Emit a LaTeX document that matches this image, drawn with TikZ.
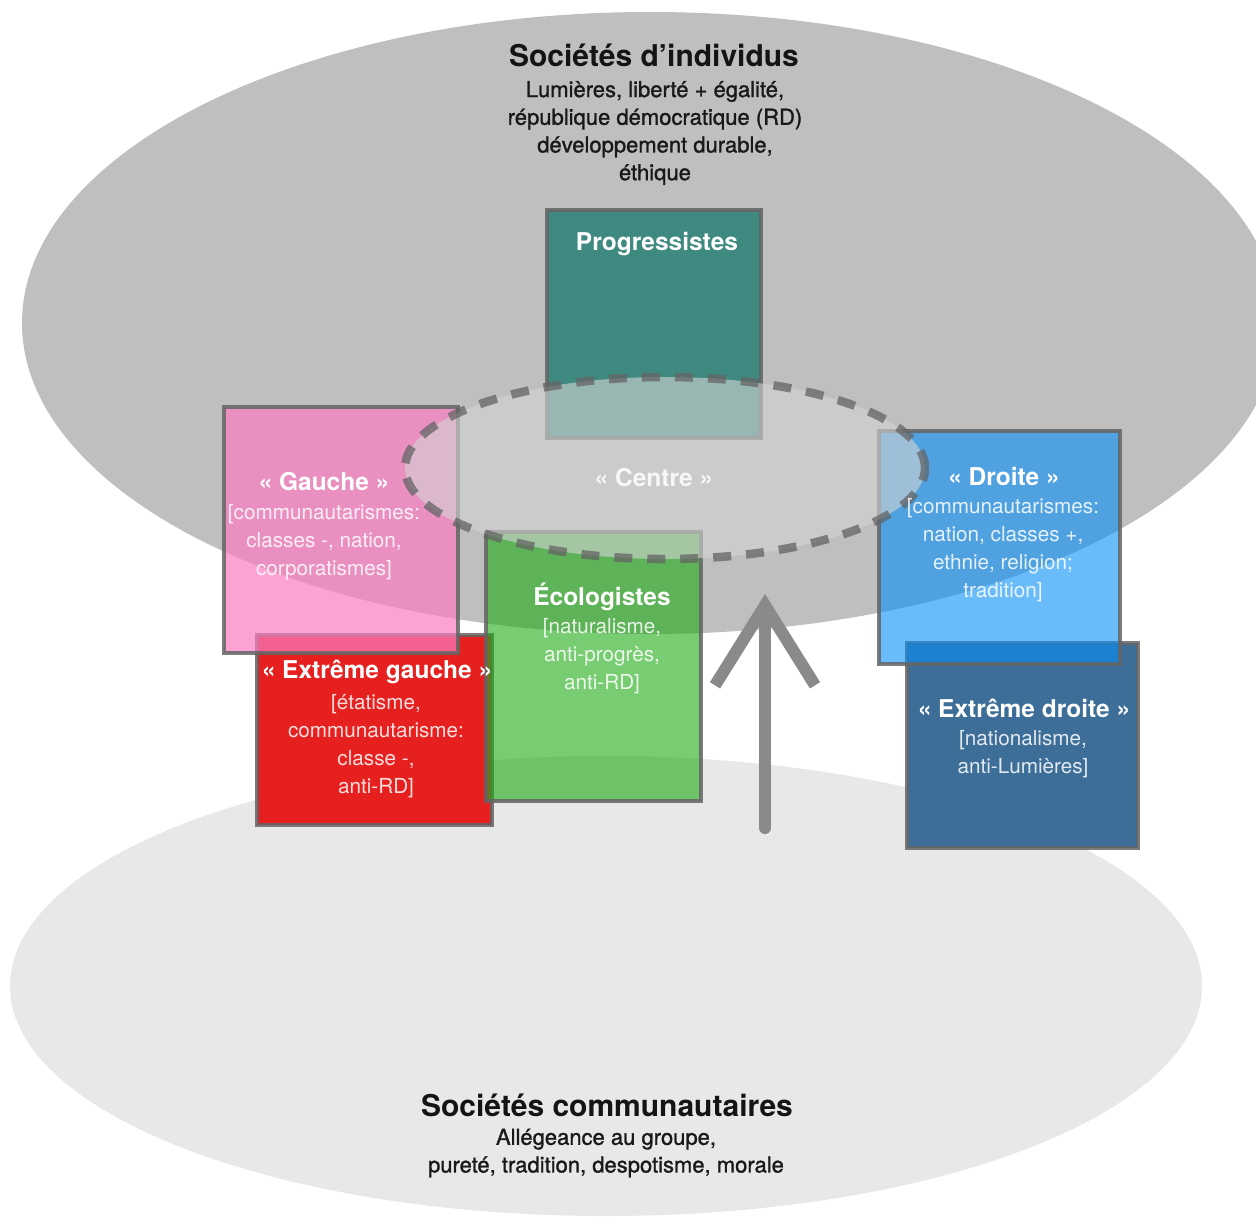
\documentclass[tikz,border=0pt]{standalone}
\usepackage{fontspec}
\setmainfont{TeX Gyre Heros}
\newfontfamily\moyen[FakeBold=1.2]{TeX Gyre Heros}
\usetikzlibrary{shapes.geometric, arrows.meta}

\definecolor{grisHaut}{RGB}{191,191,191}
\definecolor{grisBas}{RGB}{232,232,232}
\definecolor{sarcelle}{RGB}{63,138,128}
\definecolor{rose}{RGB}{251,125,193}
\definecolor{vert}{RGB}{30,170,20}
\definecolor{rouge}{RGB}{230,32,30}
\definecolor{bleu}{RGB}{5,142,246}
\definecolor{bleuFonce}{RGB}{60,110,152}
\definecolor{bord}{RGB}{100,100,100}
\definecolor{voile}{RGB}{212,212,212}
\definecolor{craie}{RGB}{138,138,138}

\tikzset{
	societe/.style={ellipse, inner sep=0pt},
	parti/.style={rectangle, draw=bord, draw opacity=0.85, line width=4pt, inner sep=0pt},
	etiquette/.style={text=white, inner sep=0pt, font=\bfseries\fontsize{24.5}{28}\selectfont},
	corps/.style={text=white, text opacity=0.85, align=center, inner sep=0pt, font=\fontsize{20.7}{28}\selectfont},
	titre/.style={text=black!92, inner sep=0pt, font=\bfseries\fontsize{30}{34}\selectfont},
	soustitre/.style={text=black!90, align=center, inner sep=0pt, font=\moyen\fontsize{22}{27.7}\selectfont},
	montee/.style={draw=craie, line width=12pt, line cap=round, line join=round, -{Straight Barb[length=80pt, width=100pt]}}
}

\begin{document}
\begin{tikzpicture}[x=1pt, y=-1pt]
		\useasboundingbox (0,0) rectangle (1256,1216);
		\clip (0,0) rectangle (1256,1216);
		\fill[white] (0,0) rectangle (1256,1216);

		% les deux sociétés
		\node[societe, fill=grisHaut, minimum width=1256, minimum height=622] (indiv) at (650,323) {};
		\node[societe, fill=grisBas, minimum width=1192, minimum height=460] (commu) at (606,986) {};

		% les partis
		\node[parti, fill=sarcelle, minimum width=214, minimum height=228] (prog) at (654,324) {};
		\node[parti, fill=rouge, minimum width=235, minimum height=190] (extg) at (374.5,730) {};
		\node[parti, fill=rose, fill opacity=0.7, minimum width=234, minimum height=246] (gauche) at (341,530) {};
		\node[parti, fill=vert, fill opacity=0.6, minimum width=215, minimum height=269] (eco) at (593.5,666.5) {};
		\node[parti, fill=bleuFonce, minimum width=231, minimum height=205] (extd) at (1022.5,745.5) {};
		\node[parti, fill=bleu, fill opacity=0.6, minimum width=241, minimum height=233] (droite) at (999.5,547.5) {};

		% le centre
		\node[societe, fill=voile, fill opacity=0.6, draw=bord, draw opacity=0.75, line width=8.5pt, dash pattern=on 18pt off 15pt, minimum width=520, minimum height=182] (centre) at (665,468) {};

		% la flèche
		\coordinate (piedF) at (765,828);
		\coordinate (pointeF) at (765,594);
		\draw[montee] (piedF) -- (pointeF);

		% les textes
		\node[titre] (titreIndiv) at (654,55) {Sociétés d’individus};
		\node[soustitre] (texteIndiv) at (655,133) {Lumières, liberté + égalité,\\république démocratique (RD)\\développement durable,\\éthique};

		\node[etiquette] (titreProg) at (657,244) {Progressistes};

		\node[etiquette] (titreGauche) at (324,482) {« Gauche »};
		\node[corps] (texteGauche) at (324,542) {[communautarismes:\\classes -, nation,\\corporatismes]};

		\node[etiquette, text opacity=0.85] (titreCentre) at (654,478) {« Centre »};

		\node[etiquette] (titreEco) at (602,597) {Écologistes};
		\node[corps] (texteEco) at (602,656) {[naturalisme,\\anti-progrès,\\anti-RD]};

		\node[etiquette] (titreDroite) at (1004,476) {« Droite »};
		\node[corps] (texteDroite) at (1003,550) {[communautarismes:\\nation, classes +,\\ethnie, religion;\\tradition]};

		\node[etiquette] (titreExtg) at (377,672) {« Extrême gauche »};
		\node[corps] (texteExtg) at (376,746) {[étatisme,\\communautarisme:\\classe -,\\anti-RD]};

		\node[etiquette] (titreExtd) at (1024,708) {« Extrême droite »};
		\node[corps] (texteExtd) at (1023,754) {[nationalisme,\\anti-Lumières]};

		\node[titre] (titreCommu) at (607,1105) {Sociétés communautaires};
		\node[soustitre] (texteCommu) at (606,1153) {Allégeance au groupe,\\pureté, tradition, despotisme, morale};
	\end{tikzpicture}
\end{document}
